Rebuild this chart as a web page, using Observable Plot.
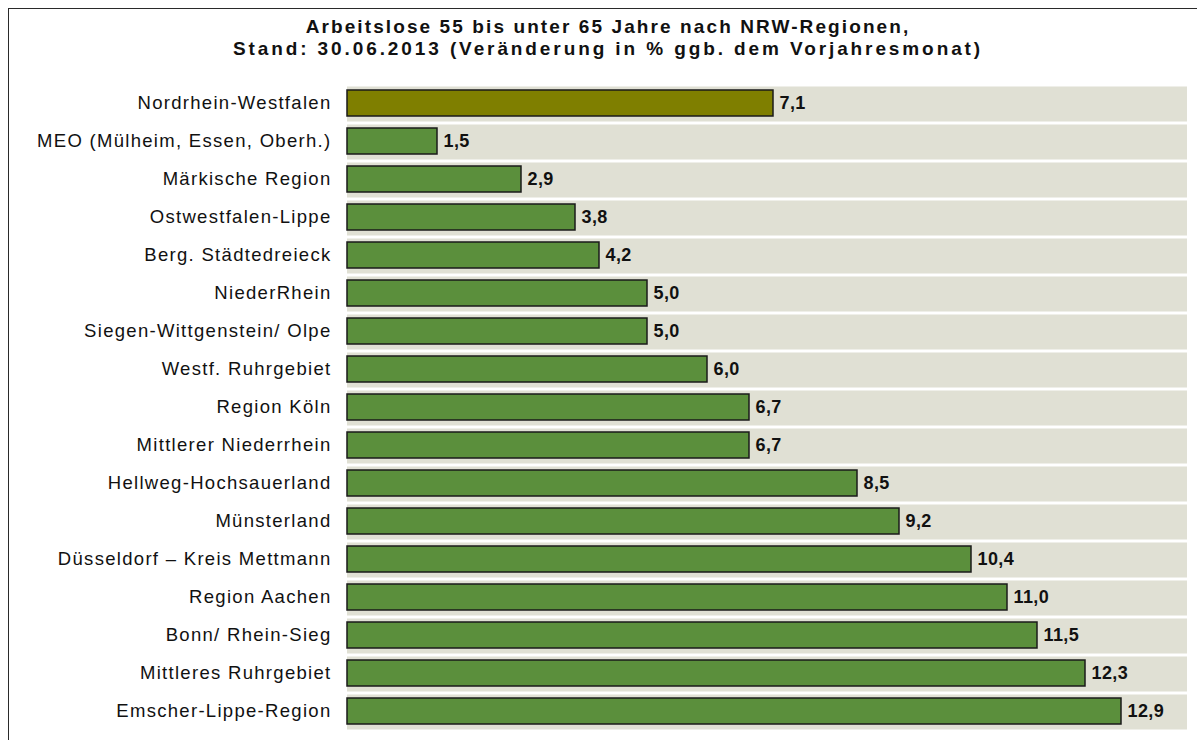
<!DOCTYPE html>
<html>
<head>
<meta charset="utf-8">
<script src="https://cdn.jsdelivr.net/npm/d3@7"></script>
<script src="https://cdn.jsdelivr.net/npm/@observablehq/plot@0.6"></script>
<style>
  html, body { margin: 0; padding: 0; background: #fff; }
  #wrap { position: relative; width: 1197px; height: 740px; overflow: hidden; font-family: "Liberation Sans", Arial, sans-serif; }
  #frame { position: absolute; left: 8px; top: 8px; width: 1220px; height: 800px; border: 1.5px solid #2a2a2a; box-sizing: border-box; }
  #title { position: absolute; left: 8px; width: 1200px; top: 16px; text-align: center; font-weight: bold; font-size: 19px; line-height: 22px; color: #111; }
  #title .l1 { letter-spacing: 2.1px; }
  #title .l2 { letter-spacing: 2.9px; }
  #chart { position: absolute; left: 0; top: 0; }
</style>
</head>
<body>
<div id="wrap">
  <div id="frame"></div>
  <div id="title"><span class="l1">Arbeitslose 55 bis unter 65 Jahre nach NRW-Regionen,</span><br><span class="l2">Stand: 30.06.2013 (Veränderung in % ggb. dem Vorjahresmonat)</span></div>
  <div id="chart"></div>
</div>
<script>
const regions = [
  "Nordrhein-Westfalen",
  "MEO (Mülheim, Essen, Oberh.)",
  "Märkische Region",
  "Ostwestfalen-Lippe",
  "Berg. Städtedreieck",
  "NiederRhein",
  "Siegen-Wittgenstein/ Olpe",
  "Westf. Ruhrgebiet",
  "Region Köln",
  "Mittlerer Niederrhein",
  "Hellweg-Hochsauerland",
  "Münsterland",
  "Düsseldorf – Kreis Mettmann",
  "Region Aachen",
  "Bonn/ Rhein-Sieg",
  "Mittleres Ruhrgebiet",
  "Emscher-Lippe-Region"
];
const values = [7.1, 1.5, 2.9, 3.8, 4.2, 5.0, 5.0, 6.0, 6.7, 6.7, 8.5, 9.2, 10.4, 11.0, 11.5, 12.3, 12.9];
const highlight = "Nordrhein-Westfalen";
const xMax = 14;

const data = regions.map((r, i) => ({region: r, value: values[i]}));
const fmt = v => v.toFixed(1).replace(".", ",");

const chart = Plot.plot({
  width: 1197,
  height: 740,
  marginLeft: 347,
  marginRight: 10,
  marginTop: 84,
  marginBottom: 10,
  style: {fontFamily: "'Liberation Sans', Arial, sans-serif", fontSize: "18.5px", color: "#111", background: "transparent"},
  x: {domain: [0, xMax], axis: null},
  y: {domain: regions, padding: 0, label: null, tickSize: 0, tickPadding: 16},
  marks: [
    Plot.barX(regions, {x1: 0, x2: xMax, y: d => d, fill: "#e0e0d4", insetTop: 2.5, insetBottom: 0.5}),
    Plot.barX(data, {x: "value", y: "region", fill: d => d.region === highlight ? "#7f7f00" : "#5b8f3c", stroke: "#1a1a1a", strokeWidth: 1.5, insetTop: 6, insetBottom: 6}),
    Plot.text(data, {x: "value", y: "region", text: d => fmt(d.value), dx: 6, textAnchor: "start", fontWeight: "bold", fontSize: 18, fill: "#111"})
  ]
});
d3.select(chart).selectAll("g[aria-label='y-axis tick label'] text").style("letter-spacing", "1.3px");
d3.select(chart).selectAll("g[aria-label='text'] text").style("letter-spacing", "0.4px");
document.getElementById("chart").appendChild(chart);
</script>
</body>
</html>
